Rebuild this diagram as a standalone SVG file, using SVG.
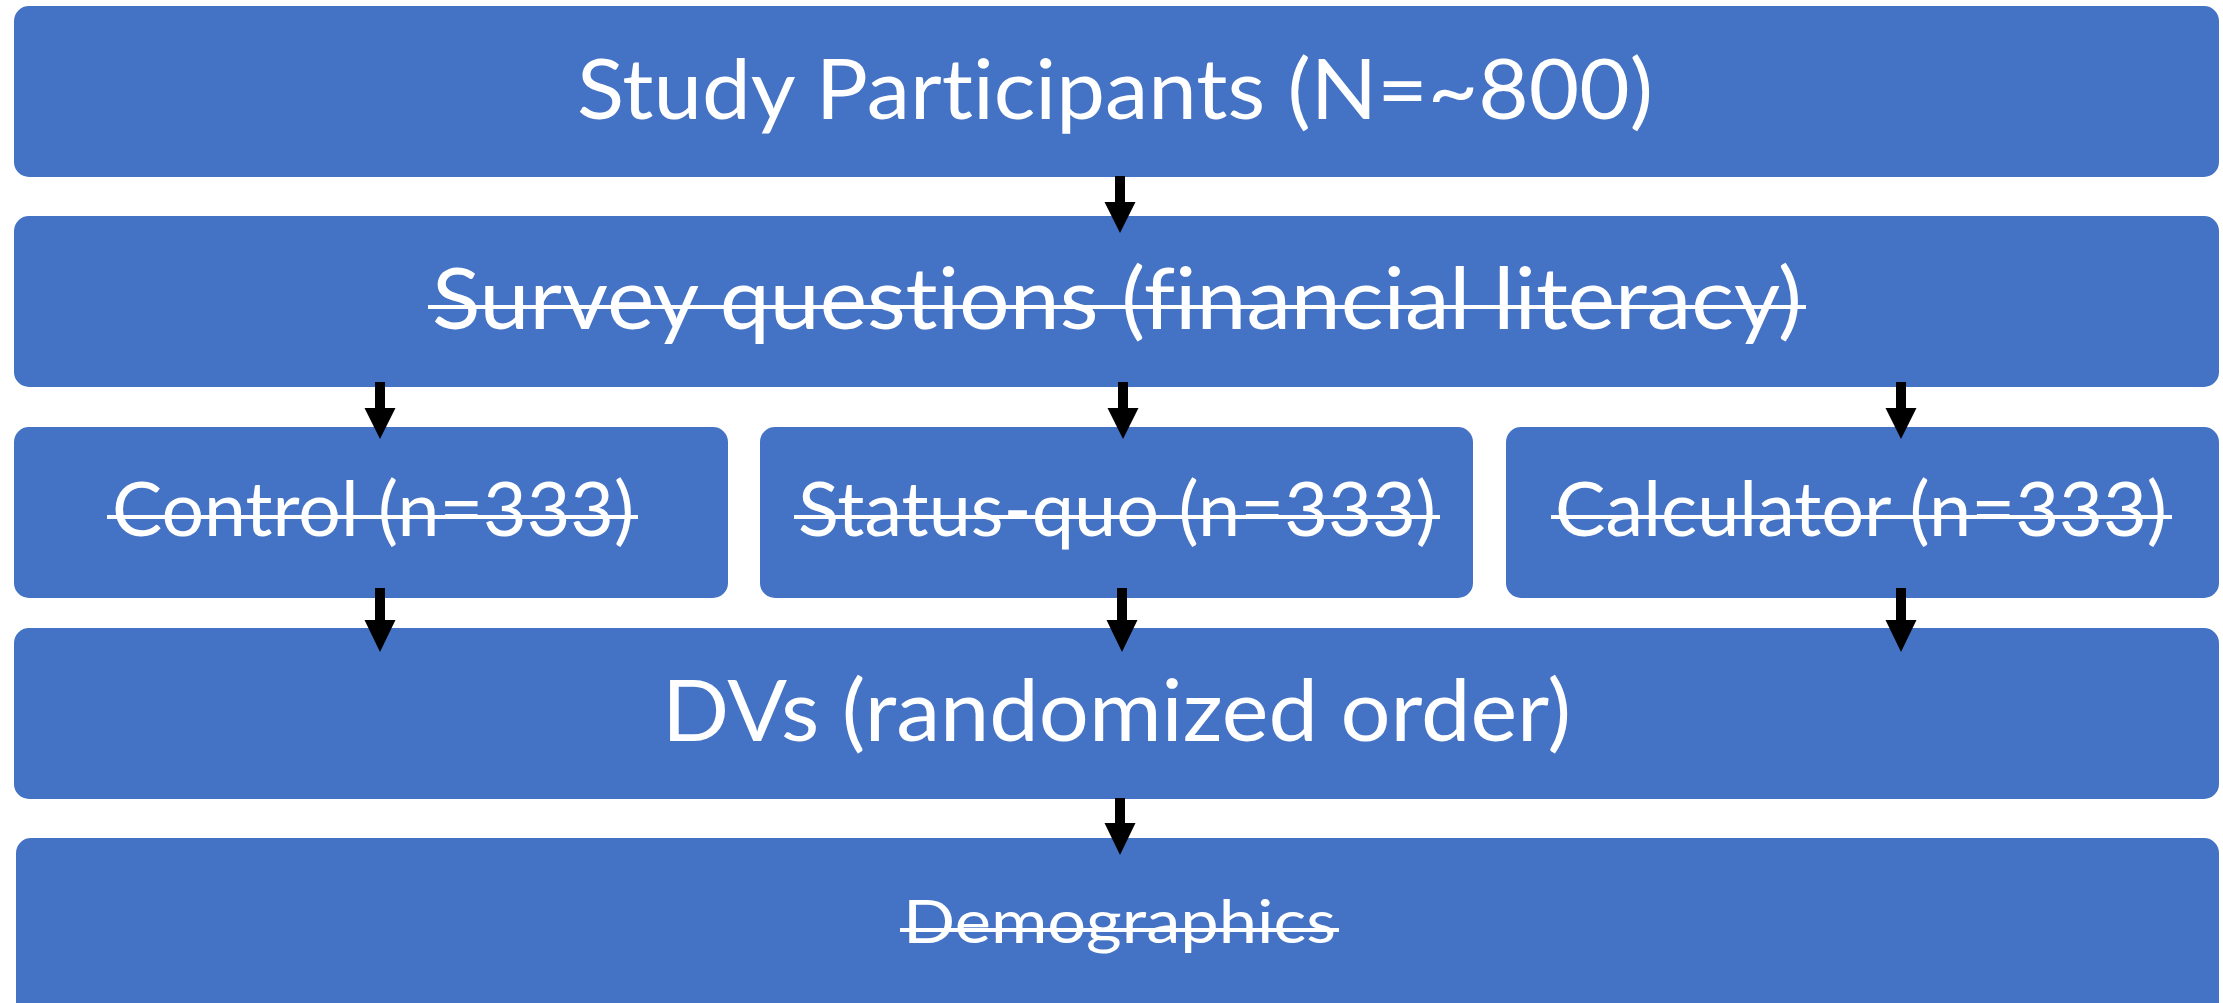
<svg xmlns="http://www.w3.org/2000/svg" width="2223" height="1003" viewBox="0 0 2223 1003">
  <style>
    .box { fill: #4472C4; }
    .lbl { fill: #FFFFFF; font-family: Lato, "Open Sans", "Liberation Sans", sans-serif; text-anchor: start; font-variant-ligatures: none; font-feature-settings: "liga" 0; }
    .strike { stroke: #FFFFFF; stroke-width: 4; }
    .arrow { fill: #000000; }
  </style>
  <rect width="2223" height="1003" fill="#FFFFFF"/>

  <g id="participants">
    <rect class="box" x="14" y="6" width="2205" height="171" rx="15"/>
    <text class="lbl" x="577" y="119" font-size="84" textLength="1076" lengthAdjust="spacingAndGlyphs">Study Participants (N=~800)</text>
  </g>

  <g id="survey">
    <rect class="box" x="14" y="216" width="2205" height="171" rx="15"/>
    <text class="lbl" x="432" y="329" font-size="85" textLength="1370" lengthAdjust="spacingAndGlyphs">Survey questions (financial literacy)</text>
    <line class="strike" x1="428" y1="307" x2="1806" y2="307"/>
  </g>

  <g id="control">
    <rect class="box" x="14" y="427" width="714" height="171" rx="15"/>
    <text class="lbl" x="112" y="536" font-size="76" textLength="522" lengthAdjust="spacingAndGlyphs">Control (n=333)</text>
    <line class="strike" x1="107" y1="517" x2="638" y2="517"/>
  </g>

  <g id="status-quo">
    <rect class="box" x="760" y="427" width="713" height="171" rx="15"/>
    <text class="lbl" x="798" y="536" font-size="76" textLength="638" lengthAdjust="spacingAndGlyphs">Status-quo (n=333)</text>
    <line class="strike" x1="794" y1="517" x2="1440" y2="517"/>
  </g>

  <g id="calculator">
    <rect class="box" x="1506" y="427" width="713" height="171" rx="15"/>
    <text class="lbl" x="1555" y="536" font-size="76" textLength="612" lengthAdjust="spacingAndGlyphs">Calculator (n=333)</text>
    <line class="strike" x1="1551" y1="517" x2="2172" y2="517"/>
  </g>

  <g id="dvs">
    <rect class="box" x="14" y="628" width="2205" height="171" rx="15"/>
    <text class="lbl" x="662" y="741" font-size="86" textLength="909" lengthAdjust="spacingAndGlyphs">DVs (randomized order)</text>
  </g>

  <g id="demographics">
    <rect class="box" x="16" y="838" width="2203" height="200" rx="15"/>
    <text class="lbl" x="903" y="943" font-size="60" textLength="433" lengthAdjust="spacingAndGlyphs">Demographics</text>
    <line class="strike" x1="900" y1="930" x2="1339" y2="930"/>
  </g>

  <g id="connectors">
    <!-- block arrows: 10px shaft, 31px-wide head -->
    <polygon class="arrow" points="1115,176 1125,176 1125,202 1135.5,202 1120,233 1104.5,202 1115,202"/>
    <polygon class="arrow" points="375,382 385,382 385,408 395.5,408 380,439 364.5,408 375,408"/>
    <polygon class="arrow" points="1118,382 1128,382 1128,408 1138.5,408 1123,439 1107.5,408 1118,408"/>
    <polygon class="arrow" points="1896,382 1906,382 1906,408 1916.5,408 1901,439 1885.5,408 1896,408"/>
    <polygon class="arrow" points="375,588 385,588 385,620 395.5,620 380,652 364.5,620 375,620"/>
    <polygon class="arrow" points="1117,588 1127,588 1127,620 1137.5,620 1122,652 1106.5,620 1117,620"/>
    <polygon class="arrow" points="1896,588 1906,588 1906,620 1916.5,620 1901,652 1885.5,620 1896,620"/>
    <polygon class="arrow" points="1115,798 1125,798 1125,823 1135.5,823 1120,855 1104.5,823 1115,823"/>
  </g>
</svg>
